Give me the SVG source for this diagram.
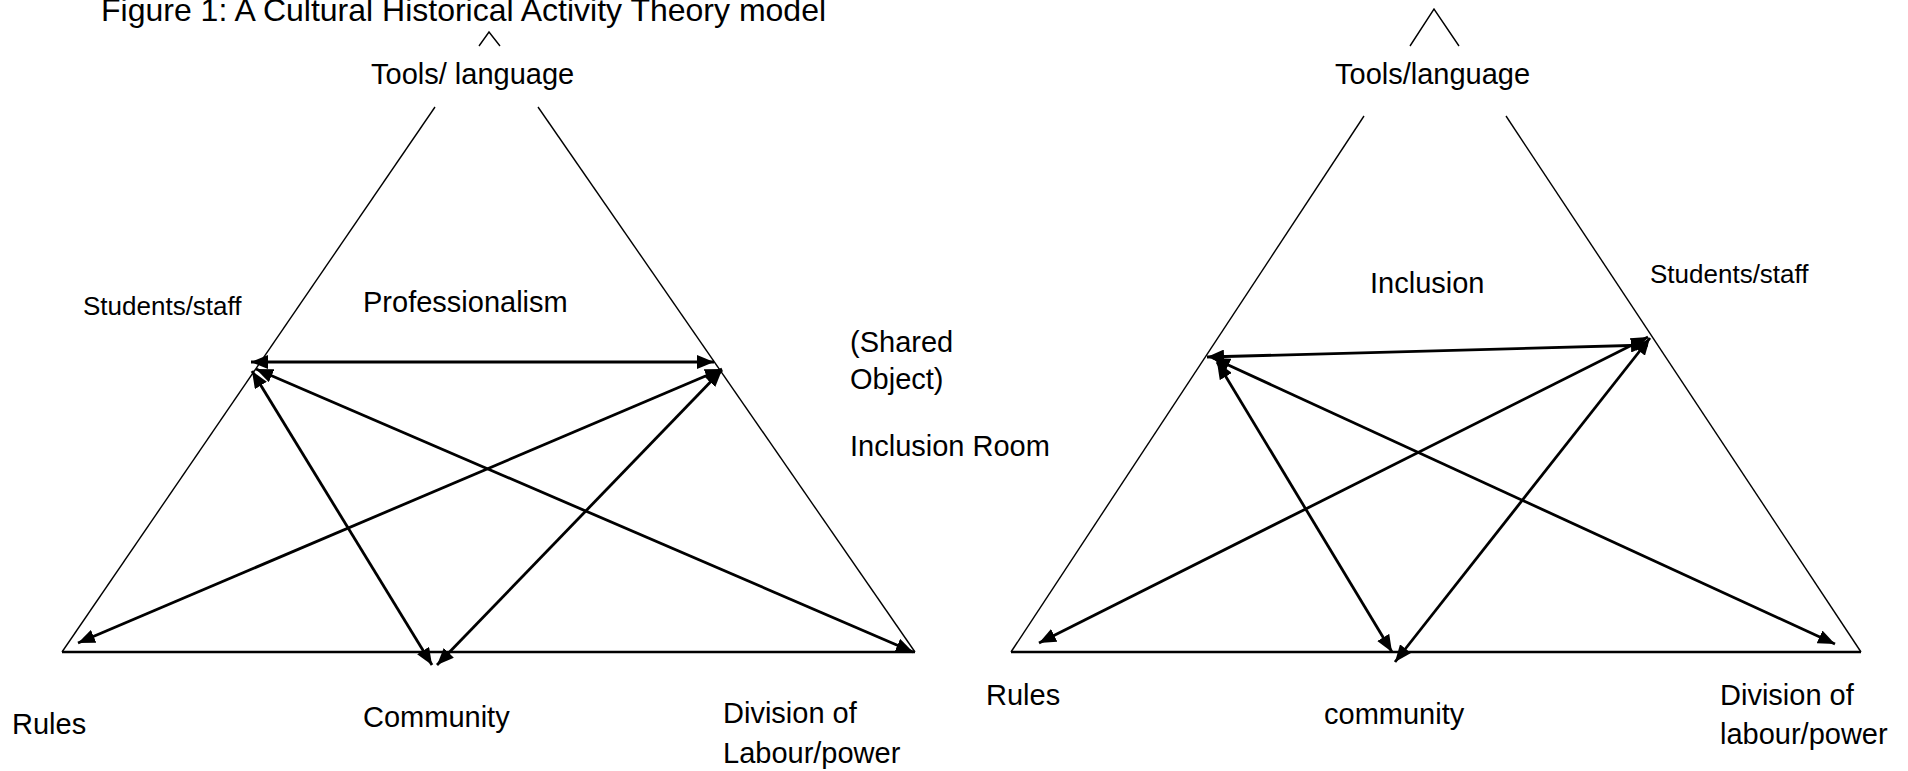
<svg xmlns="http://www.w3.org/2000/svg" width="1908" height="771" viewBox="0 0 1908 771">
<style>
text{font-family:"Liberation Sans",Arial,sans-serif;fill:#000}
.t{font-size:29px}
.s{font-size:26px}
.ttl{font-size:32px}
.side{stroke:#000;stroke-width:1.4;fill:none}
.base{stroke:#000;stroke-width:2.4;fill:none}
.arr{stroke:#000;stroke-width:2.8;fill:none;marker-start:url(#ah);marker-end:url(#ah)}
</style>
<defs>
<marker id="ah" markerUnits="userSpaceOnUse" markerWidth="18" markerHeight="14" refX="17" refY="7" orient="auto-start-reverse">
<path d="M0,0 L17,7 L0,14 z" fill="#000"/>
</marker>
</defs>
<rect width="1908" height="771" fill="#fff"/>
<text class="ttl" x="101" y="21">Figure 1: A Cultural Historical Activity Theory model</text>
<g id="left-triangle">
<polyline class="side" points="479,46 489,32 500,46"/>
<line class="side" x1="435" y1="107" x2="62" y2="652"/>
<line class="side" x1="538" y1="107" x2="915" y2="652"/>
<line class="base" x1="62" y1="652" x2="915" y2="652"/>
</g>
<g id="left-tools"><text class="t" x="371" y="84">Tools/ language</text></g>
<g id="left-students"><text class="s" x="83" y="315">Students/staff</text></g>
<g id="left-prof"><text class="t" x="363" y="312">Professionalism</text></g>
<g id="left-object"><text class="t" x="850" y="352">(Shared</text><text class="t" x="850" y="389">Object)</text></g>
<g id="left-room"><text class="t" x="850" y="456">Inclusion Room</text></g>
<g id="left-rules"><text class="t" x="12" y="734">Rules</text></g>
<g id="left-community"><text class="t" x="363" y="727">Community</text></g>
<g id="left-division"><text class="t" x="723" y="723">Division of</text><text class="t" x="723" y="763">Labour/power</text></g>
<g id="right-triangle">
<polyline class="side" points="1410,46 1434,9 1459,46"/>
<line class="side" x1="1364" y1="116" x2="1011" y2="652"/>
<line class="side" x1="1506" y1="116" x2="1861" y2="652"/>
<line class="base" x1="1011" y1="652" x2="1861" y2="652"/>
</g>
<g id="right-tools"><text class="t" x="1335" y="84">Tools/language</text></g>
<g id="right-inclusion"><text class="t" x="1370" y="293">Inclusion</text></g>
<g id="right-students"><text class="s" x="1650" y="283">Students/staff</text></g>
<g id="right-rules"><text class="t" x="986" y="705">Rules</text></g>
<g id="right-community"><text class="t" x="1324" y="724">community</text></g>
<g id="right-division"><text class="t" x="1720" y="705">Division of</text><text class="t" x="1720" y="744">labour/power</text></g>
<g id="connectors">
<line class="arr" x1="251" y1="362" x2="714" y2="362"/>
<line class="arr" x1="252" y1="371" x2="432" y2="665"/>
<line class="arr" x1="256" y1="369" x2="913" y2="652"/>
<line class="arr" x1="722" y1="369" x2="78" y2="643"/>
<line class="arr" x1="722" y1="370" x2="437" y2="665"/>
<line class="arr" x1="1207" y1="357" x2="1648" y2="345"/>
<line class="arr" x1="1217" y1="362" x2="1392" y2="652"/>
<line class="arr" x1="1213" y1="358" x2="1835" y2="644"/>
<line class="arr" x1="1648" y1="337" x2="1039" y2="643"/>
<line class="arr" x1="1650" y1="338" x2="1395" y2="662"/>
</g>
</svg>
